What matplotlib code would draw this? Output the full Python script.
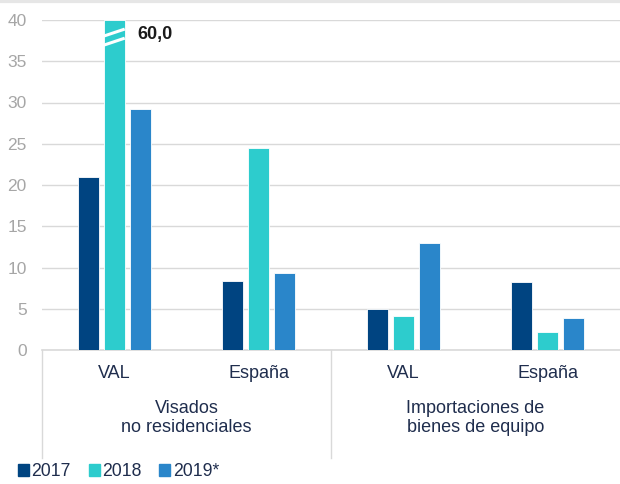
import numpy as np
import matplotlib
matplotlib.use('Agg')
import matplotlib.pyplot as plt
from matplotlib.patches import Patch
from matplotlib.lines import Line2D
import matplotlib.transforms as mtransforms

plt.rcParams['font.family'] = ['Liberation Sans', 'DejaVu Sans']

categories = ['VAL', 'España', 'VAL', 'España']
groups = ['Visados\nno residenciales', 'Importaciones de\nbienes de equipo']
series = ['2017', '2018', '2019*']
v2017 = [21.0, 8.4, 5.0, 8.2]
v2018 = [60.0, 24.5, 4.1, 2.2]
v2019 = [29.2, 9.3, 13.0, 3.9]
colors = ['#004481', '#2DCCCD', '#2A86CA']
ymax = 40

fig = plt.figure(figsize=(6.2, 4.84), dpi=100)
ax = fig.add_axes([42 / 620, 1 - 350 / 484, 1 - 42 / 620, 330 / 484])

x = np.arange(len(categories))
width = 0.145
step = 0.18
for i, (vals, col) in enumerate(zip([v2017, v2018, v2019], colors)):
    shown = [min(v, ymax) for v in vals]
    ax.bar(x + (i - 1) * step, shown, width, color=col, edgecolor='white',
           linewidth=0.6, zorder=3)

# broken bar marker for values above the axis limit
for j, v in enumerate(v2018):
    if v > ymax:
        xl = x[j] - width / 2
        xr = x[j] + width / 2
        for yb in [ymax - 3.05, ymax - 1.95]:
            ax.add_line(Line2D([xl, xr], [yb, yb + 0.85], color='white', lw=2.2,
                               zorder=4, solid_capstyle='butt'))
        ax.annotate(f'{v:.1f}'.replace('.', ','), (xr, ymax - 1.8),
                    xytext=(9, 0), textcoords='offset points',
                    fontsize=13, fontweight='bold', color='#1a1a1a',
                    va='center', ha='left')

ax.set_xlim(-0.5, len(categories) - 0.5)
ax.set_ylim(0, ymax)
ax.set_yticks(range(0, 41, 5))
ax.yaxis.grid(True, color='#d9d9d9', linewidth=1, zorder=0)
ax.set_axisbelow(True)
for s in ['top', 'right', 'left']:
    ax.spines[s].set_visible(False)
ax.spines['bottom'].set_color('#d9d9d9')
ax.spines['bottom'].set_linewidth(1.2)
ax.tick_params(axis='y', length=0, labelsize=12.5, labelcolor='#a6a6a6', pad=11)
ax.tick_params(axis='x', length=0, labelsize=13, labelcolor='#1f2d4d', pad=11)
ax.set_xticks(x)
ax.set_xticklabels(categories)

# group labels and separators
trans = mtransforms.blended_transform_factory(ax.transData, ax.transAxes)
for g, name in enumerate(groups):
    ax.text(2 * g + 0.5, -0.205, name, transform=trans, ha='center', va='center',
            fontsize=13, color='#1f2d4d', linespacing=1.17)
for xs in [-0.5, 1.5]:
    ax.add_line(Line2D([xs, xs], [0, -0.327], transform=trans, color='#d9d9d9',
                       lw=1, clip_on=False))

# thin band at the top
fig.add_artist(Line2D([0, 1], [0.997, 0.997], transform=fig.transFigure,
                      color='#e6e6e6', lw=3))

handles = [Patch(color=c, label=s) for c, s in zip(colors, series)]
fig.legend(handles=handles, loc='center left', bbox_to_anchor=(0.029, 0.025),
           ncol=3, frameon=False, fontsize=12.7, handlelength=0.62,
           handleheight=0.62, handletextpad=0.15, columnspacing=1.0,
           borderpad=0, borderaxespad=0, labelcolor='#1f2d4d')

fig.savefig('out.png', dpi=100)
